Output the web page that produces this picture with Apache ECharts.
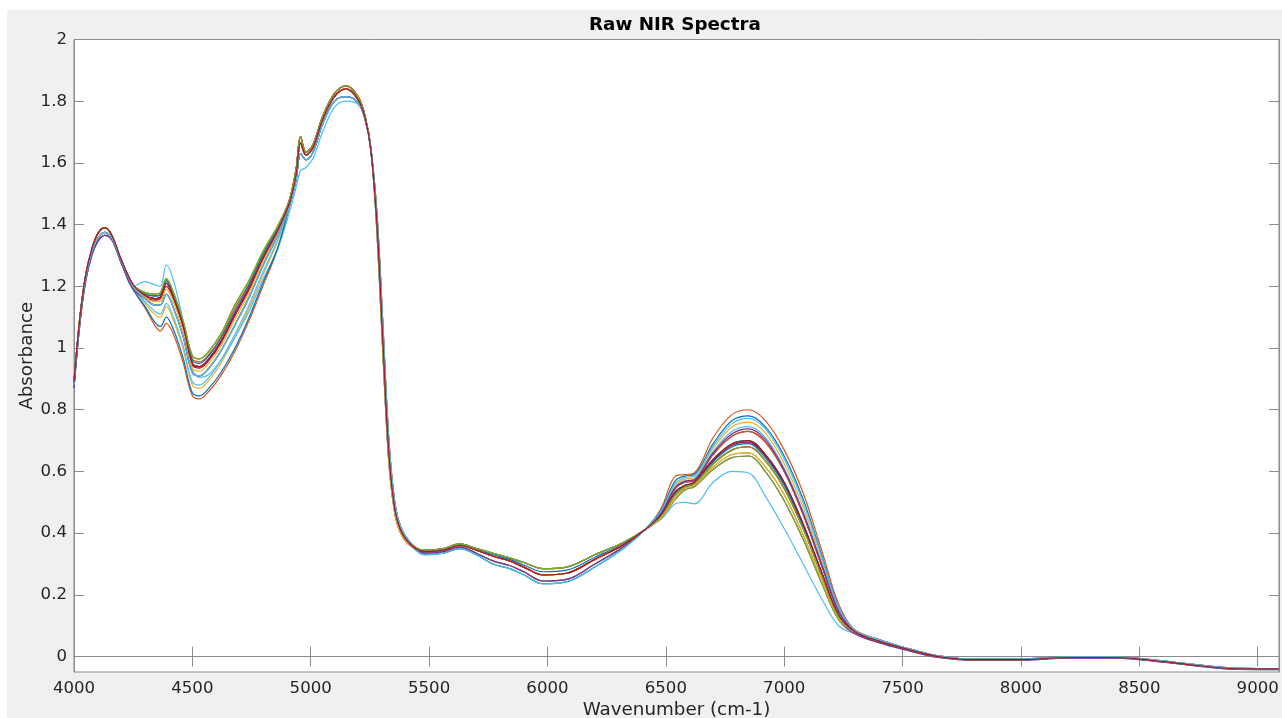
<!DOCTYPE html>
<html>
<head>
<meta charset="utf-8">
<script src="https://cdn.jsdelivr.net/npm/echarts@6.0.0/dist/echarts.min.js"></script>
<style>
html,body{margin:0;padding:0;background:#ffffff;overflow:hidden;}
#chart{position:absolute;left:7px;top:10px;width:1275px;height:708px;}
</style>
</head>
<body>
<div id="chart"></div>
<script>
// ---------------- DATA ----------------
const chartTitle = 'Raw NIR Spectra';
const xAxisTitle = 'Wavenumber (cm-1)';
const yAxisTitle = 'Absorbance';

const xTickValues = [4000, 4500, 5000, 5500, 6000, 6500, 7000, 7500, 8000, 8500, 9000];
const yTickValues = [0, 0.2, 0.4, 0.6, 0.8, 1, 1.2, 1.4, 1.6, 1.8, 2];

const wavenumbers = [4000,4025,4050,4075,4100,4130,4160,4200,4250,
  4300,4340,4365,4390,4420,4460,4500,4530,4570,4620,4680,4740,4800,4860,
  4910,4938,4957,4980,5010,5050,5100,5150,5200,5230,5255,
  5280,5305,5330,5355,5380,5420,
  5480,5560,5630,5700,5770,5840,5900,5980,6080,6200,6320,
  6410,6480,6540,6580,6620,6700,6780,6850,6920,7000,7080,7160,7230,
  7300,7400,7500,7650,7800,8000,8200,8400,8550,8700,8850,9000,9090];

const spectrum01 = [0.88,1.09,1.23,1.31,1.355,1.375,1.355,1.28,1.20,
  1.17,1.16,1.165,1.21,1.165,1.075,0.95,0.94,0.965,1.02,1.11,1.195,1.295,1.38,
  1.47,1.56,1.665,1.625,1.65,1.74,1.815,1.84,1.805,1.745,1.635,
  1.40,1.02,0.66,0.48,0.41,0.365,
  0.34,0.345,0.36,0.345,0.325,0.31,0.29,0.265,0.27,0.315,0.362,
  0.41,0.46,0.535,0.555,0.565,0.64,0.69,0.70,0.655,0.565,0.43,0.27,0.135,
  0.08,0.05,0.028,0.0,-0.01,-0.01,-0.003,-0.003,-0.012,-0.025,-0.037,-0.04,-0.04];

const spectrum02 = [0.87,1.08,1.22,1.30,1.345,1.365,1.35,1.275,1.19,
  1.13,1.075,1.055,1.08,1.045,0.955,0.845,0.835,0.86,0.91,0.99,1.09,1.205,1.32,
  1.46,1.545,1.63,1.61,1.635,1.725,1.80,1.815,1.795,1.74,1.64,
  1.43,1.07,0.70,0.50,0.42,0.37,
  0.335,0.34,0.355,0.335,0.31,0.295,0.275,0.245,0.25,0.30,0.355,
  0.41,0.48,0.585,0.59,0.595,0.71,0.785,0.80,0.765,0.67,0.53,0.34,0.17,
  0.085,0.055,0.031,0.002,-0.008,-0.008,-0.001,-0.001,-0.01,-0.023,-0.035,-0.039,-0.039];

const spectrum03 = [0.88,1.09,1.23,1.31,1.355,1.375,1.355,1.28,1.20,
  1.145,1.11,1.10,1.135,1.09,1.0,0.88,0.87,0.895,0.95,1.035,1.13,1.24,1.345,
  1.46,1.545,1.63,1.61,1.635,1.725,1.80,1.815,1.795,1.74,1.64,
  1.40,1.02,0.66,0.48,0.41,0.365,
  0.335,0.34,0.355,0.335,0.31,0.295,0.275,0.245,0.25,0.30,0.355,
  0.41,0.47,0.555,0.575,0.58,0.675,0.745,0.76,0.725,0.625,0.485,0.31,0.155,
  0.08,0.05,0.028,0.0,-0.01,-0.01,-0.003,-0.003,-0.012,-0.025,-0.037,-0.04,-0.04];

const spectrum04 = [0.88,1.09,1.23,1.31,1.355,1.375,1.355,1.28,1.20,
  1.16,1.14,1.14,1.175,1.13,1.04,0.92,0.91,0.935,0.99,1.075,1.165,1.27,1.365,
  1.47,1.56,1.665,1.625,1.65,1.74,1.815,1.84,1.805,1.745,1.635,
  1.40,1.02,0.66,0.48,0.41,0.365,
  0.34,0.345,0.36,0.345,0.325,0.31,0.29,0.265,0.27,0.315,0.362,
  0.41,0.465,0.545,0.565,0.57,0.655,0.715,0.73,0.695,0.60,0.46,0.29,0.145,
  0.08,0.05,0.028,0.0,-0.01,-0.01,-0.003,-0.003,-0.012,-0.025,-0.037,-0.04,-0.04];

const spectrum05 = [0.89,1.10,1.24,1.32,1.37,1.39,1.365,1.285,1.205,
  1.18,1.175,1.18,1.225,1.18,1.09,0.975,0.965,0.99,1.045,1.14,1.22,1.315,1.395,
  1.48,1.58,1.685,1.635,1.66,1.75,1.825,1.85,1.815,1.75,1.64,
  1.37,0.98,0.63,0.465,0.40,0.36,
  0.345,0.35,0.365,0.35,0.335,0.32,0.305,0.285,0.29,0.33,0.37,
  0.41,0.45,0.515,0.545,0.555,0.615,0.655,0.66,0.615,0.525,0.395,0.245,0.125,
  0.08,0.05,0.028,0.0,-0.01,-0.01,-0.003,-0.003,-0.012,-0.025,-0.037,-0.04,-0.04];

const spectrum06 = [0.88,1.09,1.23,1.31,1.355,1.375,1.355,1.28,1.20,
  1.215,1.205,1.20,1.27,1.22,1.09,0.93,0.905,0.915,0.96,1.035,1.12,1.225,1.32,
  1.44,1.52,1.575,1.585,1.615,1.70,1.78,1.80,1.79,1.745,1.65,
  1.37,0.98,0.63,0.465,0.40,0.36,
  0.33,0.335,0.35,0.33,0.30,0.285,0.265,0.236,0.242,0.29,0.35,
  0.41,0.445,0.495,0.50,0.495,0.565,0.60,0.595,0.52,0.415,0.30,0.185,0.10,
  0.073,0.045,0.024,-0.003,-0.012,-0.012,-0.005,-0.005,-0.014,-0.027,-0.039,-0.042,-0.042];

const spectrum07 = [0.89,1.10,1.24,1.32,1.37,1.39,1.365,1.285,1.205,
  1.17,1.16,1.165,1.21,1.165,1.075,0.95,0.94,0.965,1.02,1.11,1.195,1.295,1.38,
  1.48,1.58,1.685,1.635,1.66,1.75,1.825,1.85,1.815,1.75,1.64,
  1.40,1.02,0.66,0.48,0.41,0.365,
  0.34,0.345,0.36,0.345,0.325,0.31,0.29,0.265,0.27,0.315,0.362,
  0.41,0.46,0.53,0.552,0.562,0.635,0.685,0.695,0.65,0.56,0.425,0.265,0.133,
  0.08,0.05,0.028,0.0,-0.01,-0.01,-0.003,-0.003,-0.012,-0.025,-0.037,-0.04,-0.04];

const spectrum08 = [0.87,1.08,1.22,1.30,1.345,1.365,1.35,1.275,1.19,
  1.135,1.085,1.07,1.10,1.06,0.97,0.855,0.845,0.87,0.92,1.00,1.10,1.215,1.325,
  1.46,1.545,1.63,1.61,1.635,1.725,1.80,1.815,1.795,1.74,1.64,
  1.43,1.07,0.70,0.50,0.42,0.37,
  0.33,0.335,0.35,0.33,0.30,0.285,0.265,0.236,0.242,0.29,0.35,
  0.41,0.475,0.57,0.585,0.59,0.69,0.765,0.78,0.745,0.65,0.51,0.325,0.16,
  0.085,0.055,0.031,0.002,-0.008,-0.008,-0.001,-0.001,-0.01,-0.023,-0.035,-0.039,-0.039];

const spectrum09 = [0.89,1.10,1.24,1.32,1.37,1.39,1.365,1.285,1.205,
  1.175,1.17,1.175,1.22,1.175,1.085,0.965,0.955,0.98,1.035,1.13,1.21,1.31,1.39,
  1.48,1.58,1.685,1.635,1.66,1.75,1.825,1.85,1.815,1.75,1.64,
  1.40,1.02,0.66,0.48,0.41,0.365,
  0.345,0.35,0.365,0.35,0.335,0.32,0.305,0.285,0.29,0.33,0.37,
  0.41,0.455,0.525,0.55,0.56,0.625,0.67,0.68,0.635,0.545,0.415,0.26,0.13,
  0.08,0.05,0.028,0.0,-0.01,-0.01,-0.003,-0.003,-0.012,-0.025,-0.037,-0.04,-0.04];

const spectrum10 = [0.88,1.09,1.23,1.31,1.355,1.375,1.355,1.28,1.20,
  1.16,1.14,1.14,1.175,1.13,1.04,0.92,0.91,0.935,0.99,1.075,1.165,1.27,1.365,
  1.47,1.56,1.665,1.625,1.65,1.74,1.815,1.84,1.805,1.745,1.635,
  1.43,1.07,0.70,0.50,0.42,0.37,
  0.34,0.345,0.36,0.345,0.325,0.31,0.29,0.265,0.27,0.315,0.362,
  0.41,0.455,0.525,0.55,0.56,0.625,0.67,0.68,0.635,0.545,0.415,0.26,0.13,
  0.08,0.05,0.028,0.0,-0.01,-0.01,-0.003,-0.003,-0.012,-0.025,-0.037,-0.04,-0.04];

const spectrum11 = [0.88,1.09,1.23,1.31,1.355,1.375,1.355,1.28,1.20,
  1.17,1.16,1.165,1.21,1.165,1.075,0.95,0.94,0.965,1.02,1.11,1.195,1.295,1.38,
  1.47,1.56,1.665,1.625,1.65,1.74,1.815,1.84,1.805,1.745,1.635,
  1.37,0.98,0.63,0.465,0.40,0.36,
  0.345,0.35,0.365,0.35,0.335,0.32,0.305,0.285,0.29,0.33,0.37,
  0.41,0.45,0.51,0.54,0.55,0.607,0.645,0.65,0.60,0.505,0.38,0.235,0.12,
  0.073,0.045,0.024,-0.003,-0.012,-0.012,-0.005,-0.005,-0.014,-0.027,-0.039,-0.042,-0.042];

const spectrum12 = [0.89,1.10,1.24,1.32,1.37,1.39,1.365,1.285,1.205,
  1.18,1.175,1.18,1.225,1.18,1.09,0.975,0.965,0.99,1.045,1.14,1.22,1.315,1.395,
  1.47,1.56,1.665,1.625,1.65,1.74,1.815,1.84,1.805,1.745,1.635,
  1.40,1.02,0.66,0.48,0.41,0.365,
  0.345,0.35,0.365,0.35,0.335,0.32,0.305,0.285,0.29,0.33,0.37,
  0.41,0.45,0.51,0.54,0.55,0.607,0.645,0.65,0.60,0.505,0.38,0.235,0.12,
  0.08,0.05,0.028,0.0,-0.01,-0.01,-0.003,-0.003,-0.012,-0.025,-0.037,-0.04,-0.04];

const spectrum13 = [0.87,1.08,1.22,1.30,1.345,1.365,1.35,1.275,1.19,
  1.15,1.12,1.11,1.145,1.10,1.01,0.89,0.88,0.905,0.96,1.045,1.14,1.25,1.35,
  1.46,1.545,1.63,1.61,1.635,1.725,1.80,1.815,1.795,1.74,1.64,
  1.43,1.07,0.70,0.50,0.42,0.37,
  0.335,0.34,0.355,0.335,0.31,0.295,0.275,0.245,0.25,0.30,0.355,
  0.41,0.468,0.55,0.57,0.575,0.665,0.73,0.745,0.71,0.61,0.47,0.30,0.15,
  0.085,0.055,0.031,0.002,-0.008,-0.008,-0.001,-0.001,-0.01,-0.023,-0.035,-0.039,-0.039];

const spectrum14 = [0.88,1.09,1.23,1.31,1.355,1.375,1.355,1.28,1.20,
  1.165,1.155,1.16,1.20,1.16,1.07,0.945,0.935,0.96,1.015,1.105,1.19,1.29,1.375,
  1.48,1.58,1.685,1.635,1.66,1.75,1.825,1.85,1.815,1.75,1.64,
  1.40,1.02,0.66,0.48,0.41,0.365,
  0.34,0.345,0.36,0.345,0.325,0.31,0.29,0.265,0.27,0.315,0.362,
  0.41,0.455,0.525,0.55,0.56,0.625,0.67,0.68,0.635,0.545,0.415,0.26,0.13,
  0.08,0.05,0.028,0.0,-0.01,-0.01,-0.003,-0.003,-0.012,-0.025,-0.037,-0.04,-0.04];

const spectrum15 = [0.88,1.09,1.23,1.31,1.355,1.375,1.355,1.28,1.20,
  1.175,1.168,1.172,1.218,1.172,1.082,0.96,0.95,0.975,1.03,1.12,1.205,1.305,1.385,
  1.47,1.56,1.665,1.625,1.65,1.74,1.815,1.84,1.805,1.745,1.635,
  1.40,1.02,0.66,0.48,0.41,0.365,
  0.342,0.347,0.362,0.347,0.33,0.315,0.297,0.275,0.28,0.322,0.365,
  0.41,0.458,0.53,0.552,0.56,0.632,0.68,0.69,0.645,0.555,0.42,0.265,0.132,
  0.08,0.05,0.028,0.0,-0.01,-0.01,-0.003,-0.003,-0.012,-0.025,-0.037,-0.04,-0.04];

const spectrum16 = [0.89,1.10,1.24,1.32,1.37,1.39,1.365,1.285,1.205,
  1.17,1.16,1.165,1.21,1.165,1.075,0.95,0.94,0.965,1.02,1.11,1.195,1.295,1.38,
  1.48,1.58,1.685,1.635,1.66,1.75,1.825,1.85,1.815,1.75,1.64,
  1.43,1.07,0.70,0.50,0.42,0.37,
  0.34,0.345,0.36,0.345,0.325,0.31,0.29,0.265,0.27,0.315,0.362,
  0.41,0.465,0.545,0.565,0.57,0.655,0.715,0.73,0.695,0.60,0.46,0.29,0.145,
  0.085,0.055,0.031,0.002,-0.008,-0.008,-0.001,-0.001,-0.01,-0.023,-0.035,-0.039,-0.039];

const spectrum17 = [0.88,1.09,1.23,1.31,1.355,1.375,1.355,1.28,1.20,
  1.165,1.15,1.152,1.19,1.148,1.058,0.935,0.925,0.95,1.005,1.093,1.18,1.283,1.372,
  1.47,1.56,1.665,1.625,1.65,1.74,1.815,1.84,1.805,1.745,1.635,
  1.37,0.98,0.63,0.465,0.40,0.36,
  0.34,0.345,0.36,0.345,0.325,0.31,0.29,0.265,0.27,0.315,0.362,
  0.41,0.45,0.515,0.545,0.555,0.615,0.655,0.66,0.615,0.525,0.395,0.245,0.125,
  0.08,0.05,0.028,0.0,-0.01,-0.01,-0.003,-0.003,-0.012,-0.025,-0.037,-0.04,-0.04];

const spectrum18 = [0.87,1.08,1.22,1.30,1.345,1.365,1.35,1.275,1.19,
  1.16,1.14,1.14,1.175,1.13,1.04,0.92,0.91,0.935,0.99,1.075,1.165,1.27,1.365,
  1.46,1.545,1.63,1.61,1.635,1.725,1.80,1.815,1.795,1.74,1.64,
  1.40,1.02,0.66,0.48,0.41,0.365,
  0.335,0.34,0.355,0.335,0.31,0.295,0.275,0.245,0.25,0.30,0.355,
  0.41,0.466,0.548,0.568,0.573,0.66,0.722,0.738,0.703,0.605,0.465,0.295,0.147,
  0.08,0.05,0.028,0.0,-0.01,-0.01,-0.003,-0.003,-0.012,-0.025,-0.037,-0.04,-0.04];

const spectrum19 = [0.89,1.10,1.24,1.32,1.37,1.39,1.365,1.285,1.205,
  1.18,1.175,1.18,1.225,1.18,1.09,0.975,0.965,0.99,1.045,1.14,1.22,1.315,1.395,
  1.48,1.58,1.685,1.635,1.66,1.75,1.825,1.85,1.815,1.75,1.64,
  1.40,1.02,0.66,0.48,0.41,0.365,
  0.345,0.35,0.365,0.35,0.335,0.32,0.305,0.285,0.29,0.33,0.37,
  0.41,0.455,0.525,0.55,0.56,0.625,0.67,0.68,0.635,0.545,0.415,0.26,0.13,
  0.08,0.05,0.028,0.0,-0.01,-0.01,-0.003,-0.003,-0.012,-0.025,-0.037,-0.04,-0.04];

const spectrum20 = [0.88,1.09,1.23,1.31,1.355,1.375,1.355,1.28,1.20,
  1.16,1.14,1.14,1.175,1.13,1.04,0.92,0.91,0.935,0.99,1.075,1.165,1.27,1.365,
  1.46,1.545,1.63,1.61,1.635,1.725,1.80,1.815,1.795,1.74,1.64,
  1.43,1.07,0.70,0.50,0.42,0.37,
  0.33,0.335,0.35,0.33,0.30,0.285,0.265,0.236,0.242,0.29,0.35,
  0.41,0.472,0.562,0.58,0.585,0.682,0.755,0.772,0.738,0.64,0.50,0.32,0.158,
  0.085,0.055,0.031,0.002,-0.008,-0.008,-0.001,-0.001,-0.01,-0.023,-0.035,-0.039,-0.039];

const spectrum21 = [0.89,1.10,1.24,1.32,1.37,1.39,1.365,1.285,1.205,
  1.17,1.16,1.165,1.21,1.165,1.075,0.95,0.94,0.965,1.02,1.11,1.195,1.295,1.38,
  1.47,1.56,1.665,1.625,1.65,1.74,1.815,1.84,1.805,1.745,1.635,
  1.40,1.02,0.66,0.48,0.41,0.365,
  0.34,0.345,0.36,0.345,0.325,0.31,0.29,0.265,0.27,0.315,0.362,
  0.41,0.46,0.535,0.555,0.565,0.64,0.69,0.70,0.655,0.565,0.43,0.27,0.135,
  0.08,0.05,0.028,0.0,-0.01,-0.01,-0.003,-0.003,-0.012,-0.025,-0.037,-0.04,-0.04];

const spectra = [spectrum01, spectrum02, spectrum03, spectrum04, spectrum05, spectrum06, spectrum07,
                 spectrum08, spectrum09, spectrum10, spectrum11, spectrum12, spectrum13, spectrum14,
                 spectrum15, spectrum16, spectrum17, spectrum18, spectrum19, spectrum20, spectrum21];

// ---------------- STYLE ----------------
const lineColors = ['#0072BD', '#D95319', '#EDB120', '#7E2F8E', '#77AC30', '#4DBEEE', '#A2142F'];
const FONT = 'DejaVu Sans';
const axisGray = '#8c8c8c';
const textColor = '#262626';

const chart = echarts.init(document.getElementById('chart'), null, { renderer: 'canvas' });

const series = spectra.map((s, k) => ({
  type: 'line',
  name: 'Spectrum ' + (k + 1),
  data: wavenumbers.map((w, i) => [w, s[i]]),
  showSymbol: false,
  smooth: 0.35,
  lineStyle: { width: 1.2, color: lineColors[k % lineColors.length] },
  itemStyle: { color: lineColors[k % lineColors.length] },
  emphasis: { disabled: true },
  xAxisIndex: 0,
  yAxisIndex: 0
}));

const tickCommon = { inside: true, length: 10, lineStyle: { color: axisGray, width: 1 } };
const plainNumber = v => String(v);

chart.setOption({
  animation: false,
  backgroundColor: '#f0f0f0',
  title: {
    text: chartTitle,
    left: 582,
    top: 6,
    padding: 0,
    textStyle: { fontFamily: FONT, fontSize: 18.3, fontWeight: 'bold', color: '#000000' }
  },
  grid: {
    left: 67, top: 29.5, right: 3, bottom: 46,
    show: true, backgroundColor: '#ffffff', borderColor: axisGray, borderWidth: 1,
    containLabel: false,
    outerBoundsMode: 'none'
  },
  xAxis: [
    {
      type: 'value', position: 'bottom', min: 4000, max: 9090,
      name: xAxisTitle, nameLocation: 'middle', nameGap: 29, nameMoveOverlap: false,
      nameTextStyle: { fontFamily: FONT, fontSize: 18.3, color: textColor },
      axisLine: { show: true, lineStyle: { color: axisGray } },
      axisTick: Object.assign({ customValues: xTickValues }, tickCommon),
      axisLabel: { customValues: xTickValues, formatter: plainNumber, fontFamily: FONT, fontSize: 16.6, color: textColor, margin: 8 },
      splitLine: { show: false }
    },
    {
      type: 'value', position: 'top', min: 4000, max: 9090,
      axisLine: { show: true, lineStyle: { color: axisGray } },
      axisTick: Object.assign({ customValues: xTickValues }, tickCommon),
      axisLabel: { show: false },
      splitLine: { show: false }
    }
  ],
  yAxis: [
    {
      type: 'value', position: 'left', min: -0.05, max: 2,
      name: yAxisTitle, nameLocation: 'middle', nameGap: 38, nameRotate: 90, nameMoveOverlap: false,
      nameTextStyle: { fontFamily: FONT, fontSize: 18.3, color: textColor },
      axisLine: { show: true, lineStyle: { color: axisGray } },
      axisTick: Object.assign({ customValues: yTickValues }, tickCommon),
      axisLabel: { customValues: yTickValues, formatter: plainNumber, fontFamily: FONT, fontSize: 16.6, color: textColor, margin: 7 },
      splitLine: { show: false }
    },
    {
      type: 'value', position: 'right', min: -0.05, max: 2,
      axisLine: { show: true, lineStyle: { color: axisGray } },
      axisTick: Object.assign({ customValues: yTickValues }, tickCommon),
      axisLabel: { show: false },
      splitLine: { show: false }
    }
  ],
  series: series
});
</script>
</body>
</html>
